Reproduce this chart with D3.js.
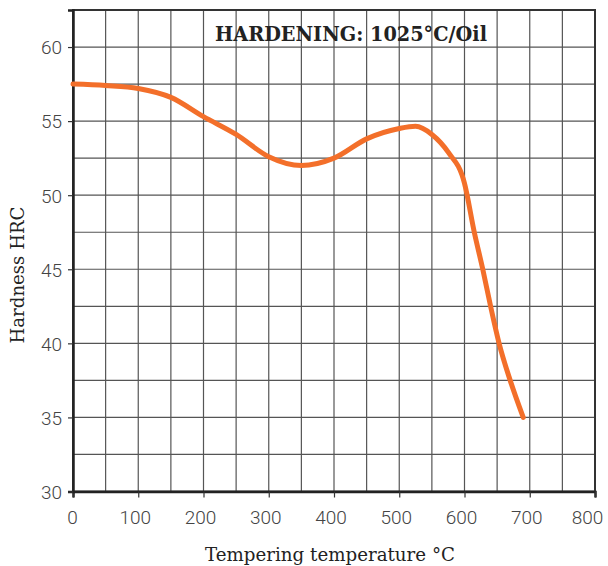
<!DOCTYPE html>
<html>
<head>
<script src="https://cdn.jsdelivr.net/npm/d3@7"></script>
  <meta charset="utf-8">
  <title>Hardness chart</title>
  <style>
    body { margin: 0; background: #fff; }
    svg { display: block; }
    .tick text { font-family: Roboto, sans-serif; font-weight: 300; font-size: 19px; fill: #444; }
    .lbl { font-family: "DejaVu Serif", "Liberation Serif", serif; fill: #222; }
  </style>
</head>
<body>
  <div id="chartArea"></div>
  <script>
  var temps    = [0, 50, 100, 150, 200, 250, 300, 350, 400, 450, 500, 525, 550, 575, 600, 615, 628, 640, 653, 670, 690];
  var hardness = [57.5, 57.4, 57.2, 56.6, 55.3, 54.1, 52.6, 52.0, 52.5, 53.8, 54.5, 54.65, 54.1, 52.9, 50.8, 47.5, 45, 42.5, 40, 37.5, 35];
  var xTicks = [0, 100, 200, 300, 400, 500, 600, 700, 800];
  var yTicks = [30, 35, 40, 45, 50, 55, 60];
  var title = 'HARDENING: 1025°C/Oil';

  var width = 608, height = 566;
  var margin = { left: 73, right: 13, top: 10, bottom: 75 };

  var svg = d3.select('#chartArea')
    .append('svg')
    .attr('width', width)
    .attr('height', height);

  var x = d3.scaleLinear().domain([0, 800]).range([margin.left, width - margin.right]);
  var y = d3.scaleLinear().domain([30, 62.5]).range([height - margin.bottom + 0.5, margin.top]);

  // grid
  var grid = svg.append('g');
  grid.selectAll('line.v')
    .data(d3.range(50, 800, 50))
    .enter().append('line')
    .attr('x1', function(d) { return x(d); })
    .attr('x2', function(d) { return x(d); })
    .attr('y1', y(30)).attr('y2', y(62.5))
    .attr('stroke', '#555').attr('stroke-width', 1.2);
  grid.selectAll('line.h')
    .data(d3.range(32.5, 62.5, 2.5))
    .enter().append('line')
    .attr('y1', function(d) { return y(d); })
    .attr('y2', function(d) { return y(d); })
    .attr('x1', x(0)).attr('x2', x(800))
    .attr('stroke', '#555').attr('stroke-width', 1.2);

  // frame
  svg.append('rect')
    .attr('x', x(0)).attr('y', y(62.5))
    .attr('width', x(800) - x(0)).attr('height', y(30) - y(62.5))
    .attr('fill', 'none').attr('stroke', '#333').attr('stroke-width', 2);

  // axes
  var xAxis = svg.append('g')
    .attr('transform', 'translate(0,' + y(30) + ')')
    .call(d3.axisBottom(x).tickValues(xTicks).tickSize(6));
  var yAxis = svg.append('g')
    .attr('transform', 'translate(' + x(0) + ',0)')
    .call(d3.axisLeft(y).tickValues(yTicks).tickSize(5));
  [xAxis, yAxis].forEach(function(a) {
    a.select('.domain').attr('stroke', '#222').attr('stroke-width', 2.5);
    a.selectAll('.tick line').attr('stroke', '#333').attr('stroke-width', 1.2);
  });
  xAxis.selectAll('.tick text')
    .attr('y', 32).attr('dy', 0)
    .attr('dx', function(d) { return d === 800 ? -8 : d === 0 ? -1 : -3.5; });
  yAxis.selectAll('.tick text')
    .attr('x', -11).attr('dy', '0.36em');

  // curve
  var pts = temps.map(function(t, i) { return [t, hardness[i]]; });
  var line = d3.line()
    .x(function(d) { return x(d[0]); })
    .y(function(d) { return y(d[1]); })
    .curve(d3.curveMonotoneX);
  svg.append('path')
    .datum(pts)
    .attr('d', line)
    .attr('fill', 'none')
    .attr('stroke', '#f36f2a')
    .attr('stroke-width', 5)
    .attr('stroke-linecap', 'round');

  // labels
  svg.append('text').attr('class', 'lbl')
    .attr('x', 351).attr('y', 41)
    .attr('text-anchor', 'middle')
    .attr('font-weight', 'bold').attr('font-size', 21)
    .attr('textLength', 272).attr('lengthAdjust', 'spacingAndGlyphs')
    .text(title);
  svg.append('text').attr('class', 'lbl')
    .attr('x', 330).attr('y', 561)
    .attr('text-anchor', 'middle')
    .attr('font-size', 18)
    .attr('textLength', 250).attr('lengthAdjust', 'spacingAndGlyphs')
    .text('Tempering temperature °C');
  svg.append('text').attr('class', 'lbl')
    .attr('transform', 'translate(24,275) rotate(-90)')
    .attr('text-anchor', 'middle')
    .attr('font-size', 18)
    .attr('textLength', 137).attr('lengthAdjust', 'spacingAndGlyphs')
    .text('Hardness HRC');
  </script>
</body>
</html>
